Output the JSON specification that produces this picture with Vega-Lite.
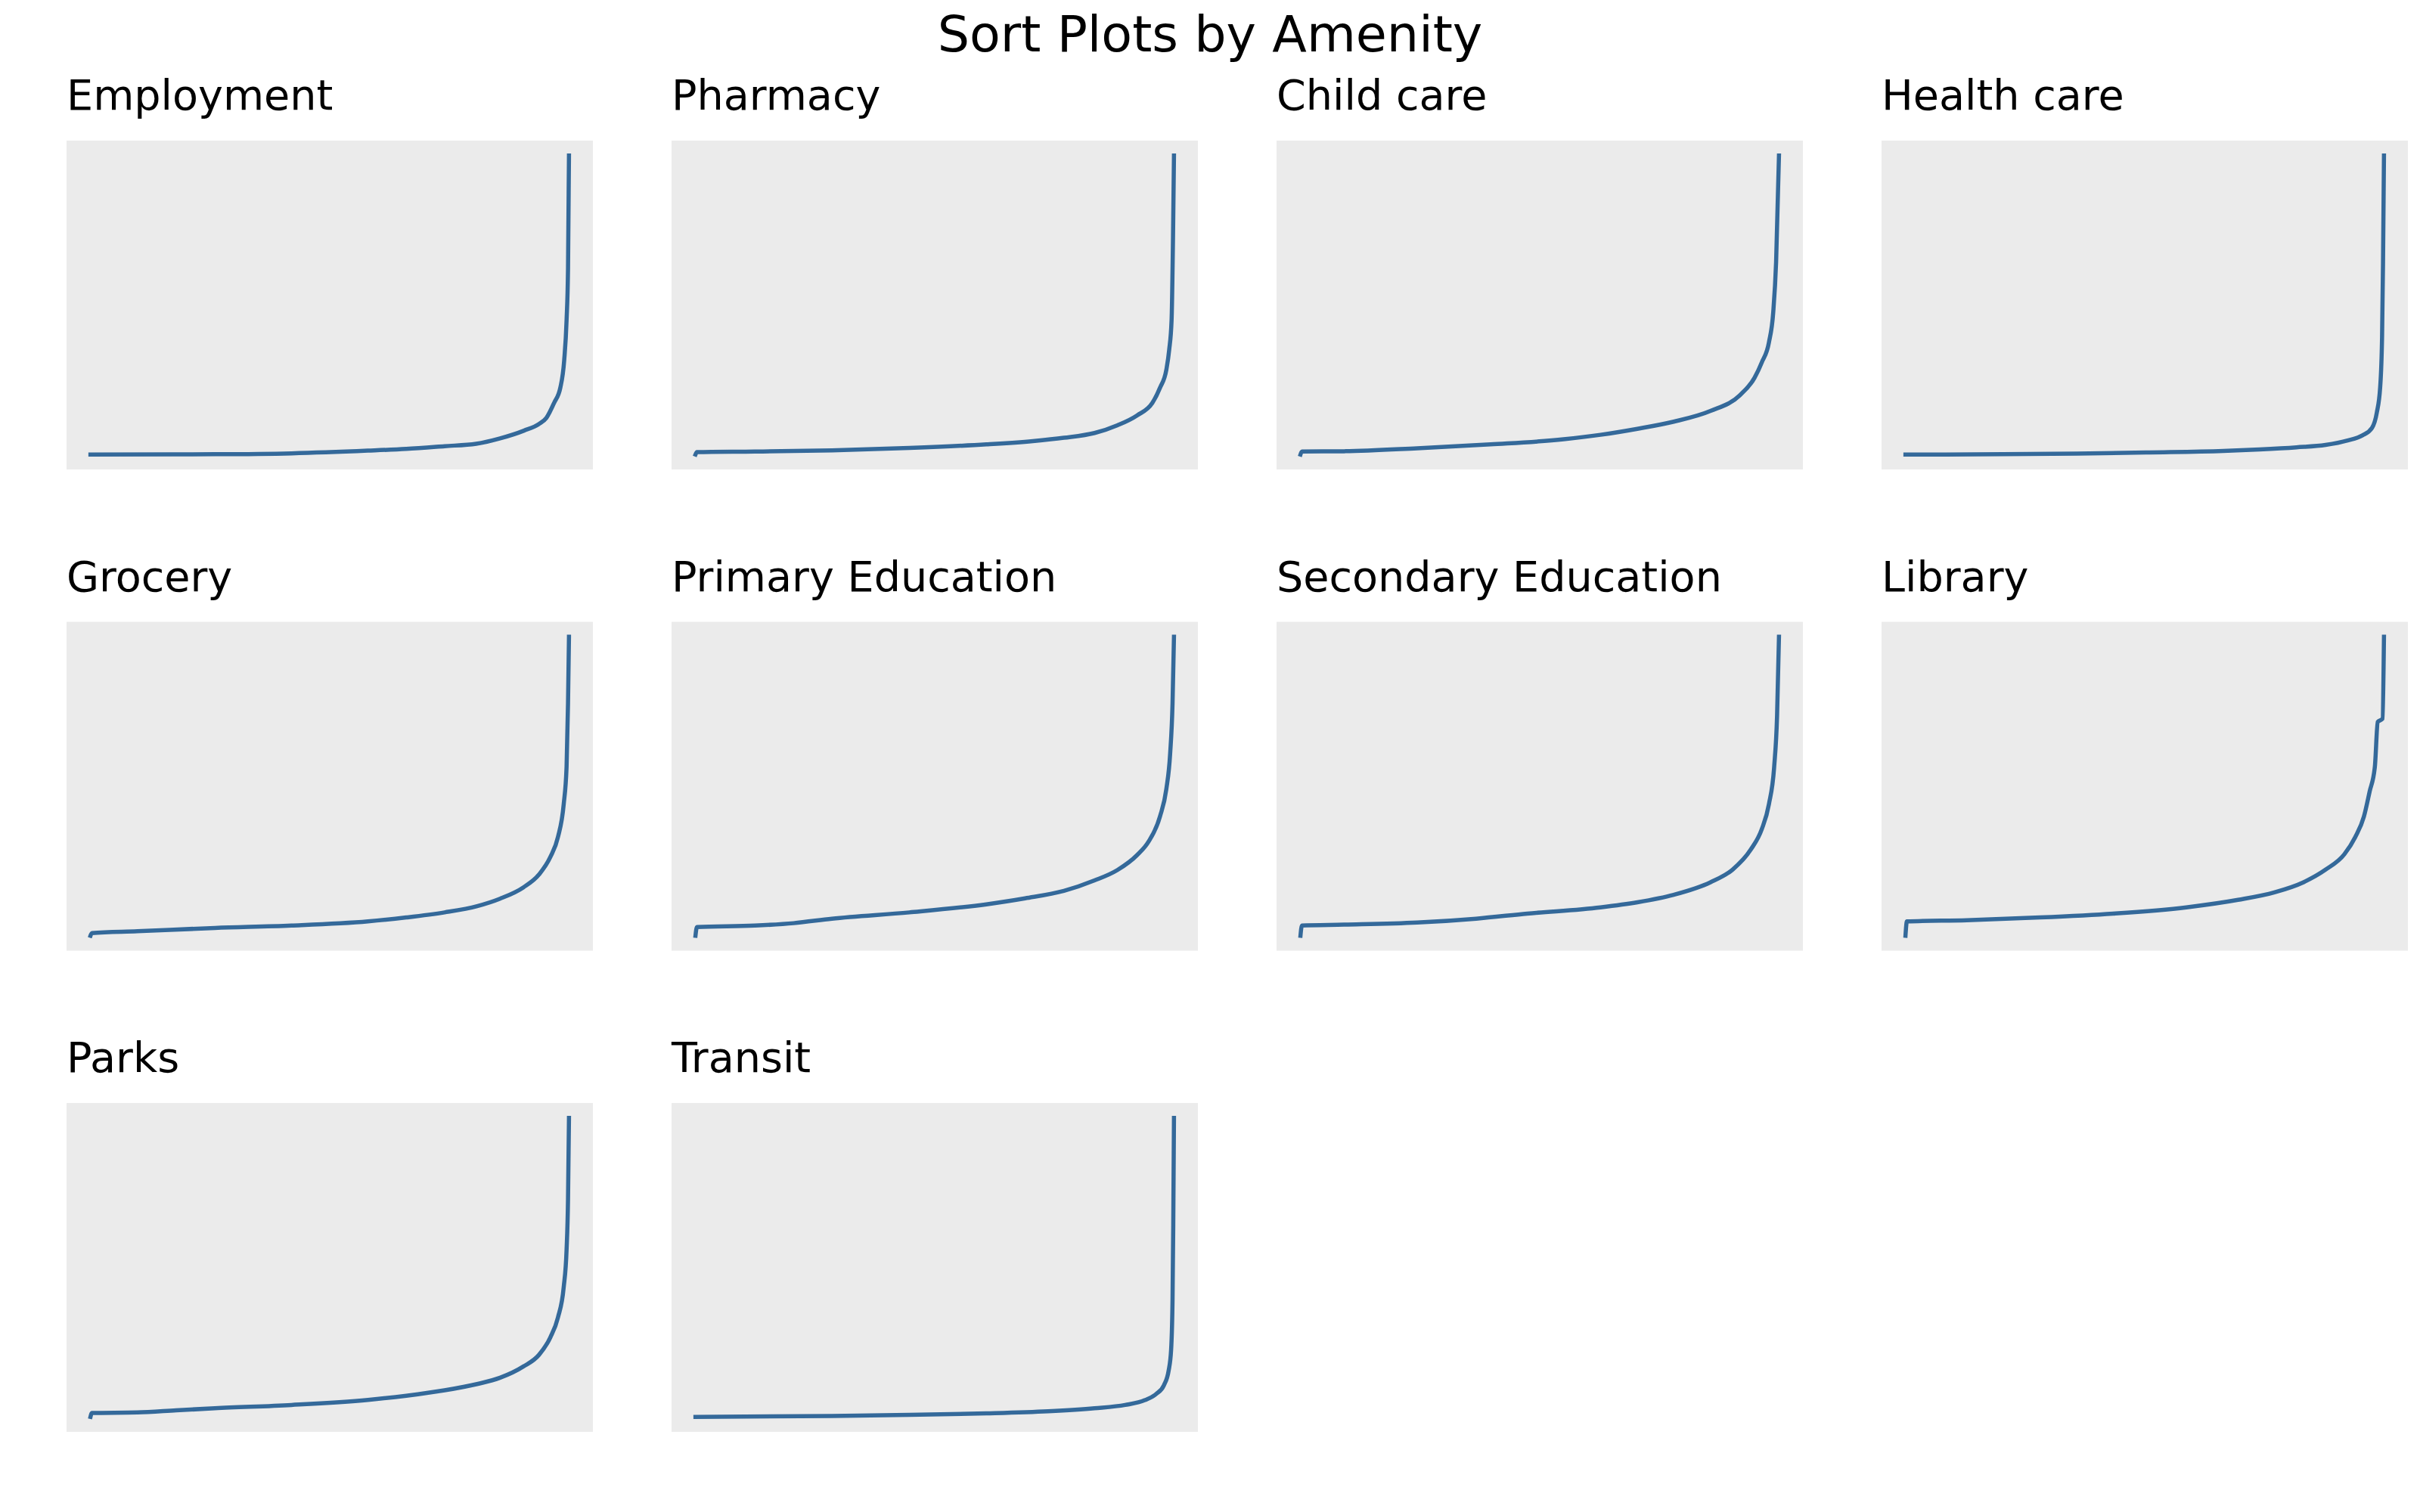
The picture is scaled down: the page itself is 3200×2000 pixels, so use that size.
{
  "$schema": "https://vega.github.io/schema/vega-lite/v6.json",
  "title": {"text": "Sort Plots by Amenity", "fontSize": 66.7, "font": "DejaVu Sans", "fontWeight": "normal", "color": "black", "anchor": "middle", "dx": -36, "offset": 19, "baseline": "top"},
  "padding": {"left": 88, "top": 15, "right": 0, "bottom": 0},
  "data": {"values": [
    {"amenity": "Employment", "rank": 0, "value": 0}, {"amenity": "Employment", "rank": 26, "value": 0.1}, {"amenity": "Employment", "rank": 42, "value": 0.4}, {"amenity": "Employment", "rank": 58, "value": 1.3}, {"amenity": "Employment", "rank": 66, "value": 1.9}, {"amenity": "Employment", "rank": 74, "value": 2.8}, {"amenity": "Employment", "rank": 80.6, "value": 3.6}, {"amenity": "Employment", "rank": 85.6, "value": 5.4}, {"amenity": "Employment", "rank": 90.6, "value": 8.0}, {"amenity": "Employment", "rank": 93.7, "value": 10.2}, {"amenity": "Employment", "rank": 95.3, "value": 12.3}, {"amenity": "Employment", "rank": 96.9, "value": 17.3}, {"amenity": "Employment", "rank": 98.2, "value": 22.4}, {"amenity": "Employment", "rank": 99, "value": 31.5}, {"amenity": "Employment", "rank": 99.5, "value": 45}, {"amenity": "Employment", "rank": 99.8, "value": 62}, {"amenity": "Employment", "rank": 100, "value": 100},
    {"amenity": "Pharmacy", "rank": 0, "value": 0}, {"amenity": "Pharmacy", "rank": 0.3, "value": 0.8}, {"amenity": "Pharmacy", "rank": 12.4, "value": 1.0}, {"amenity": "Pharmacy", "rank": 28.5, "value": 1.4}, {"amenity": "Pharmacy", "rank": 44.7, "value": 2.2}, {"amenity": "Pharmacy", "rank": 60.8, "value": 3.4}, {"amenity": "Pharmacy", "rank": 70.5, "value": 4.5}, {"amenity": "Pharmacy", "rank": 77, "value": 5.6}, {"amenity": "Pharmacy", "rank": 83.4, "value": 7.2}, {"amenity": "Pharmacy", "rank": 88.2, "value": 9.8}, {"amenity": "Pharmacy", "rank": 92.3, "value": 13.1}, {"amenity": "Pharmacy", "rank": 95.5, "value": 17.3}, {"amenity": "Pharmacy", "rank": 97.1, "value": 22.4}, {"amenity": "Pharmacy", "rank": 98.4, "value": 28.3}, {"amenity": "Pharmacy", "rank": 99, "value": 35}, {"amenity": "Pharmacy", "rank": 99.5, "value": 45}, {"amenity": "Pharmacy", "rank": 99.8, "value": 72.8}, {"amenity": "Pharmacy", "rank": 100, "value": 100},
    {"amenity": "Child care", "rank": 0, "value": 0}, {"amenity": "Child care", "rank": 0.3, "value": 1.0}, {"amenity": "Child care", "rank": 9.1, "value": 1.1}, {"amenity": "Child care", "rank": 24.4, "value": 2.1}, {"amenity": "Child care", "rank": 39.7, "value": 3.4}, {"amenity": "Child care", "rank": 55, "value": 5.1}, {"amenity": "Child care", "rank": 62.7, "value": 6.6}, {"amenity": "Child care", "rank": 70.4, "value": 8.6}, {"amenity": "Child care", "rank": 78, "value": 11.0}, {"amenity": "Child care", "rank": 85.7, "value": 14.6}, {"amenity": "Child care", "rank": 91.8, "value": 19.8}, {"amenity": "Child care", "rank": 94.9, "value": 25.7}, {"amenity": "Child care", "rank": 96.4, "value": 30.8}, {"amenity": "Child care", "rank": 97.9, "value": 37.5}, {"amenity": "Child care", "rank": 98.8, "value": 47.6}, {"amenity": "Child care", "rank": 99.4, "value": 64.4}, {"amenity": "Child care", "rank": 100, "value": 100},
    {"amenity": "Health care", "rank": 0, "value": 0}, {"amenity": "Health care", "rank": 20.4, "value": 0.1}, {"amenity": "Health care", "rank": 35.8, "value": 0.3}, {"amenity": "Health care", "rank": 51, "value": 0.7}, {"amenity": "Health care", "rank": 66.4, "value": 1.2}, {"amenity": "Health care", "rank": 74, "value": 1.7}, {"amenity": "Health care", "rank": 81.7, "value": 2.4}, {"amenity": "Health care", "rank": 87.8, "value": 3.2}, {"amenity": "Health care", "rank": 92.4, "value": 4.7}, {"amenity": "Health care", "rank": 95.5, "value": 6.4}, {"amenity": "Health care", "rank": 97.5, "value": 8.9}, {"amenity": "Health care", "rank": 98.5, "value": 14}, {"amenity": "Health care", "rank": 99.2, "value": 22.4}, {"amenity": "Health care", "rank": 99.6, "value": 39.2}, {"amenity": "Health care", "rank": 99.8, "value": 64}, {"amenity": "Health care", "rank": 100, "value": 100},
    {"amenity": "Grocery", "rank": 0, "value": 0}, {"amenity": "Grocery", "rank": 0.3, "value": 0.9}, {"amenity": "Grocery", "rank": 9.8, "value": 1.5}, {"amenity": "Grocery", "rank": 26, "value": 2.6}, {"amenity": "Grocery", "rank": 42, "value": 3.4}, {"amenity": "Grocery", "rank": 58, "value": 4.8}, {"amenity": "Grocery", "rank": 66, "value": 6.1}, {"amenity": "Grocery", "rank": 74, "value": 7.8}, {"amenity": "Grocery", "rank": 80.8, "value": 9.9}, {"amenity": "Grocery", "rank": 85.6, "value": 12.4}, {"amenity": "Grocery", "rank": 90.5, "value": 16.2}, {"amenity": "Grocery", "rank": 93.7, "value": 20.4}, {"amenity": "Grocery", "rank": 96.1, "value": 26.3}, {"amenity": "Grocery", "rank": 97.7, "value": 33}, {"amenity": "Grocery", "rank": 98.9, "value": 44}, {"amenity": "Grocery", "rank": 99.5, "value": 56.6}, {"amenity": "Grocery", "rank": 99.8, "value": 77.7}, {"amenity": "Grocery", "rank": 100, "value": 100},
    {"amenity": "Primary Education", "rank": 0, "value": 0}, {"amenity": "Primary Education", "rank": 0.3, "value": 2.9}, {"amenity": "Primary Education", "rank": 12.4, "value": 3.4}, {"amenity": "Primary Education", "rank": 20.5, "value": 4.2}, {"amenity": "Primary Education", "rank": 28.5, "value": 5.7}, {"amenity": "Primary Education", "rank": 44.7, "value": 7.8}, {"amenity": "Primary Education", "rank": 60.8, "value": 10.5}, {"amenity": "Primary Education", "rank": 68.9, "value": 12.5}, {"amenity": "Primary Education", "rank": 77, "value": 15}, {"amenity": "Primary Education", "rank": 83.4, "value": 18.5}, {"amenity": "Primary Education", "rank": 88.2, "value": 22}, {"amenity": "Primary Education", "rank": 92.3, "value": 27}, {"amenity": "Primary Education", "rank": 94.7, "value": 31.5}, {"amenity": "Primary Education", "rank": 97.1, "value": 40}, {"amenity": "Primary Education", "rank": 98.4, "value": 49}, {"amenity": "Primary Education", "rank": 99.2, "value": 60.9}, {"amenity": "Primary Education", "rank": 99.7, "value": 77.7}, {"amenity": "Primary Education", "rank": 100, "value": 100},
    {"amenity": "Secondary Education", "rank": 0, "value": 0}, {"amenity": "Secondary Education", "rank": 0.3, "value": 3.4}, {"amenity": "Secondary Education", "rank": 9.1, "value": 3.7}, {"amenity": "Secondary Education", "rank": 24.4, "value": 4.4}, {"amenity": "Secondary Education", "rank": 36.7, "value": 5.7}, {"amenity": "Secondary Education", "rank": 47.4, "value": 7.4}, {"amenity": "Secondary Education", "rank": 62.7, "value": 9.5}, {"amenity": "Secondary Education", "rank": 70.4, "value": 11.2}, {"amenity": "Secondary Education", "rank": 78, "value": 13.7}, {"amenity": "Secondary Education", "rank": 85.7, "value": 17.9}, {"amenity": "Secondary Education", "rank": 90.3, "value": 22.1}, {"amenity": "Secondary Education", "rank": 94.1, "value": 28.8}, {"amenity": "Secondary Education", "rank": 96.4, "value": 35.6}, {"amenity": "Secondary Education", "rank": 97.9, "value": 44}, {"amenity": "Secondary Education", "rank": 99, "value": 56.6}, {"amenity": "Secondary Education", "rank": 99.6, "value": 73.5}, {"amenity": "Secondary Education", "rank": 100, "value": 100},
    {"amenity": "Library", "rank": 0, "value": 0}, {"amenity": "Library", "rank": 0.3, "value": 4.8}, {"amenity": "Library", "rank": 12.8, "value": 5.2}, {"amenity": "Library", "rank": 28.1, "value": 6.1}, {"amenity": "Library", "rank": 43.4, "value": 7.4}, {"amenity": "Library", "rank": 58.7, "value": 9.5}, {"amenity": "Library", "rank": 69.5, "value": 12}, {"amenity": "Library", "rank": 77.1, "value": 14.5}, {"amenity": "Library", "rank": 83.2, "value": 17.9}, {"amenity": "Library", "rank": 87.8, "value": 22.1}, {"amenity": "Library", "rank": 91.7, "value": 27.2}, {"amenity": "Library", "rank": 94, "value": 33}, {"amenity": "Library", "rank": 95.8, "value": 39.8}, {"amenity": "Library", "rank": 97, "value": 48.2}, {"amenity": "Library", "rank": 98.1, "value": 56.6}, {"amenity": "Library", "rank": 98.7, "value": 71.5}, {"amenity": "Library", "rank": 99.7, "value": 72.6}, {"amenity": "Library", "rank": 100, "value": 100},
    {"amenity": "Parks", "rank": 0, "value": 0}, {"amenity": "Parks", "rank": 0.3, "value": 1.3}, {"amenity": "Parks", "rank": 9.8, "value": 1.5}, {"amenity": "Parks", "rank": 17.9, "value": 2.2}, {"amenity": "Parks", "rank": 26, "value": 2.9}, {"amenity": "Parks", "rank": 42, "value": 4.0}, {"amenity": "Parks", "rank": 58, "value": 5.7}, {"amenity": "Parks", "rank": 66, "value": 7.1}, {"amenity": "Parks", "rank": 74, "value": 8.9}, {"amenity": "Parks", "rank": 80.8, "value": 11}, {"amenity": "Parks", "rank": 85.6, "value": 13.1}, {"amenity": "Parks", "rank": 90.5, "value": 16.9}, {"amenity": "Parks", "rank": 93.7, "value": 20.7}, {"amenity": "Parks", "rank": 96.1, "value": 26.6}, {"amenity": "Parks", "rank": 97.7, "value": 33.3}, {"amenity": "Parks", "rank": 98.9, "value": 43.4}, {"amenity": "Parks", "rank": 99.5, "value": 56}, {"amenity": "Parks", "rank": 99.8, "value": 72.8}, {"amenity": "Parks", "rank": 100, "value": 100},
    {"amenity": "Transit", "rank": 0, "value": 0}, {"amenity": "Transit", "rank": 28.5, "value": 0.3}, {"amenity": "Transit", "rank": 44.7, "value": 0.7}, {"amenity": "Transit", "rank": 60.8, "value": 1.2}, {"amenity": "Transit", "rank": 73.7, "value": 1.9}, {"amenity": "Transit", "rank": 83.4, "value": 2.9}, {"amenity": "Transit", "rank": 89.8, "value": 4}, {"amenity": "Transit", "rank": 93.9, "value": 5.6}, {"amenity": "Transit", "rank": 96.3, "value": 7.7}, {"amenity": "Transit", "rank": 97.9, "value": 10.6}, {"amenity": "Transit", "rank": 98.9, "value": 15.6}, {"amenity": "Transit", "rank": 99.4, "value": 22.4}, {"amenity": "Transit", "rank": 99.7, "value": 39.2}, {"amenity": "Transit", "rank": 99.85, "value": 64.4}, {"amenity": "Transit", "rank": 100, "value": 100}
  ]},
  "facet": {
    "field": "amenity", "type": "nominal",
    "sort": ["Employment", "Pharmacy", "Child care", "Health care", "Grocery", "Primary Education", "Secondary Education", "Library", "Parks", "Transit"],
    "header": {"title": null, "labelFontSize": 55.6, "labelFont": "DejaVu Sans", "labelColor": "black", "labelAnchor": "start", "labelAlign": "left", "labelBaseline": "alphabetic", "labelPadding": -14.6}
  },
  "columns": 4,
  "spacing": {"row": 116.5, "column": 104},
  "spec": {
    "width": 696,
    "height": 435,
    "mark": {"type": "line", "color": "#34699a", "strokeWidth": 5.5, "strokeCap": "square", "interpolate": "monotone"},
    "encoding": {
      "x": {"field": "rank", "type": "quantitative", "axis": null, "scale": {"domain": [-5, 105], "nice": false, "zero": false}},
      "y": {"field": "value", "type": "quantitative", "axis": null, "scale": {"domain": [-5, 105], "nice": false, "zero": false}}
    }
  },
  "config": {"view": {"fill": "#ebebeb", "stroke": null}}
}
